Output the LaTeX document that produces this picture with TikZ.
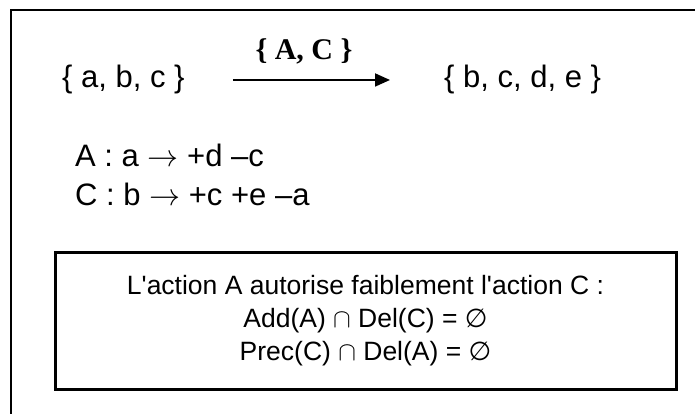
\RequirePackage{fix-cm}
\documentclass[tikz,border=0pt]{standalone}
\usepackage{fontspec}
\setmainfont{Liberation Sans}
\newfontfamily\serifbf{Liberation Serif}
\newfontfamily\symfont{DejaVu Sans}
\usetikzlibrary{arrows.meta,positioning}

\begin{document}
\begin{tikzpicture}[x=1pt, y=-1pt, every node/.style={inner sep=0pt, font=\fontsize{31}{38}\selectfont}]
  \useasboundingbox (0,0) rectangle (695,414);
  % Outer frame (left and top edges only)
  \draw[line width=2pt] (11,414) -- (11,10) -- (695,10);

  % States and transition
  \node[anchor=base west] (abc) at (62,88) {\{ a, b, c \}};
  \node[anchor=base west] (bcde) at (444,88) {\{ b, c, d, e \}};
  \draw[line width=1.8pt, -{Triangle[length=15pt,width=13pt]}, shorten <=48pt, shorten >=54pt] (abc) -- (bcde);
  \node[anchor=base, font=\serifbf\bfseries\fontsize{30}{36}\selectfont] (acts) at (304,60) {\{ A, C \}};

  % Actions
  \node[anchor=base west] (actA) at (75,167) {A : a $\rightarrow$ +d --c};
  \node[anchor=base west] (actC) at (75,205) {C : b $\rightarrow$ +c +e --a};

  % Condition box
  \node[draw, line width=3pt, minimum width=621pt, minimum height=137pt, align=center,
        font=\fontsize{26.5}{33}\selectfont] (cond) at (365.5,320.5)
    {L\textquotesingle action A autorise faiblement l\textquotesingle action C :\\
     Add(A) $\cap$ Del(C) = {\symfont\fontsize{26}{33}\selectfont ∅}\\
     Prec(C) $\cap$ Del(A) = {\symfont\fontsize{26}{33}\selectfont ∅}};
\end{tikzpicture}
\end{document}
